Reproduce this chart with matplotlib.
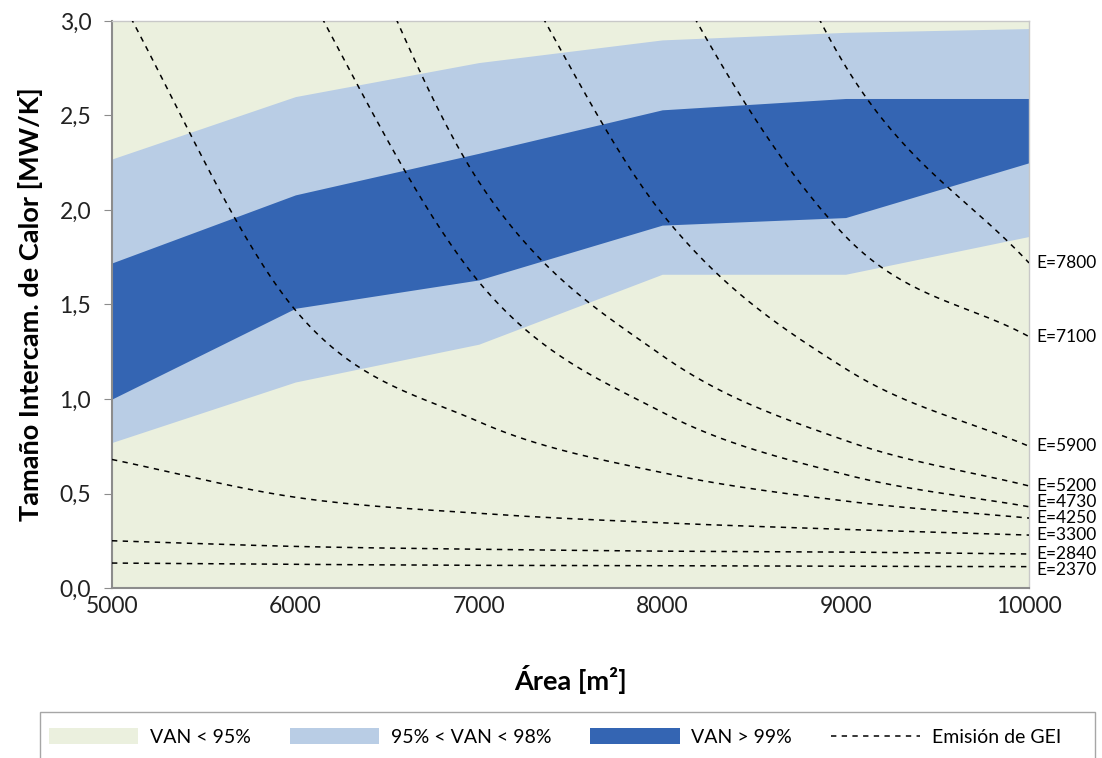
import numpy as np
import matplotlib
matplotlib.use("Agg")
import matplotlib.pyplot as plt
from matplotlib.patches import Patch, Rectangle
from matplotlib.lines import Line2D

plt.rcParams['font.family'] = ['Lato', 'DejaVu Sans']

# Área del campo solar [m2]
area = [5000, 6000, 7000, 8000, 9000, 10000]

# Límites de las regiones de VAN (tamaño intercambiador, MW/K)
van95_low = [0.77, 1.09, 1.29, 1.66, 1.66, 1.86]
van95_high = [2.27, 2.60, 2.78, 2.90, 2.94, 2.96]
van99_low = [1.00, 1.48, 1.63, 1.92, 1.96, 2.25]
van99_high = [1.72, 2.08, 2.30, 2.53, 2.59, 2.59]

# Curvas de isoemisión de GEI
emision_labels = ["E=7800", "E=7100", "E=5900", "E=5200", "E=4730",
                  "E=4250", "E=3300", "E=2840", "E=2370"]
emision_curves = [
    [10.0, 8.5, 7.0, 4.9, 2.76, 1.72],
    [8.5, 7.0, 5.5, 3.33, 1.86, 1.33],
    [6.5, 5.0, 3.6, 1.98, 1.16, 0.75],
    [6.0, 4.2, 2.15, 1.23, 0.78, 0.54],
    [5.2, 3.28, 1.62, 0.93, 0.60, 0.43],
    [3.2, 1.47, 0.88, 0.61, 0.46, 0.37],
    [0.68, 0.48, 0.395, 0.345, 0.31, 0.28],
    [0.25, 0.22, 0.205, 0.195, 0.19, 0.18],
    [0.132, 0.125, 0.12, 0.118, 0.115, 0.113],
]

C_BG = "#EBF0DE"
C_LIGHT = "#B9CDE5"
C_DARK = "#3465B3"
DASH = (0, (3.5, 3.5))


def smooth(x, y, n=40):
    """Catmull-Rom spline through the given points."""
    x = np.asarray(x, float)
    y = np.asarray(y, float)
    px = np.concatenate([[2 * x[0] - x[1]], x, [2 * x[-1] - x[-2]]])
    py = np.concatenate([[2 * y[0] - y[1]], y, [2 * y[-1] - y[-2]]])
    xs, ys = [], []
    t = np.linspace(0, 1, n, endpoint=False)
    for i in range(1, len(px) - 2):
        for p, out in ((px, xs), (py, ys)):
            p0, p1, p2, p3 = p[i - 1], p[i], p[i + 1], p[i + 2]
            out.append(0.5 * ((2 * p1) + (-p0 + p2) * t
                              + (2 * p0 - 5 * p1 + 4 * p2 - p3) * t ** 2
                              + (-p0 + 3 * p1 - 3 * p2 + p3) * t ** 3))
    xs = np.concatenate(xs + [[x[-1]]])
    ys = np.concatenate(ys + [[y[-1]]])
    return xs, ys


fig = plt.figure(figsize=(11.02, 7.58), dpi=100)
ax = fig.add_axes([112 / 1102, 1 - 588 / 758, (1029 - 112) / 1102, (588 - 21) / 758])
ax.set_facecolor(C_BG)

ax.fill_between(area, van95_low, van95_high, color=C_LIGHT, lw=0, zorder=1)
ax.fill_between(area, van99_low, van99_high, color=C_DARK, lw=0, zorder=2)

for vals in emision_curves:
    xs, ys = smooth(area, vals)
    ax.plot(xs, ys, color="black", ls=DASH, lw=1.1, zorder=3)

# End labels, spread upward from the bottom so they do not collide
ends = [c[-1] for c in emision_curves]
order = np.argsort(ends)
min_gap = 0.085
label_y = {}
prev = None
for k in order:
    y = ends[k] - 0.02 if prev is None else max(ends[k], prev + min_gap)
    label_y[k] = y
    prev = y
for k, lab in enumerate(emision_labels):
    ax.text(10000 + 40, label_y[k], lab, fontsize=12.5, va="center",
            ha="left", clip_on=False)

ax.set_xlim(5000, 10000)
ax.set_ylim(0, 3.0)
ax.set_xticks(area)
yt = np.arange(0, 3.01, 0.5)
ax.set_yticks(yt)
ax.set_yticklabels([f"{v:.1f}".replace(".", ",") for v in yt])
ax.tick_params(axis="both", labelsize=16.5, colors="#222222")
ax.tick_params(axis="y", direction="out", length=6, color="#8C8C8C", pad=9)
ax.tick_params(axis="x", length=0, pad=6)

for side in ("left", "bottom"):
    ax.spines[side].set_color("#8C8C8C")
    ax.spines[side].set_linewidth(1.5)
for side in ("top", "right"):
    ax.spines[side].set_color("#C8C8C8")
    ax.spines[side].set_linewidth(1.0)

ax.set_xlabel("Área [m²]", fontsize=19.5, fontweight="bold", labelpad=34)
ax.set_ylabel("Tamaño Intercam. de Calor [MW/K]", fontsize=19.5,
              fontweight="bold", labelpad=12)

# Legend frame across the bottom of the figure
fig.patches.append(Rectangle((40 / 1102, -0.01), (1095 - 40) / 1102,
                             (758 - 712) / 758 + 0.01,
                             transform=fig.transFigure, facecolor="white",
                             edgecolor="#A6A6A6", lw=1.0, zorder=0))

handles = [
    Patch(facecolor=C_BG, edgecolor="none", label="VAN < 95%"),
    Patch(facecolor=C_LIGHT, edgecolor="none", label="95% < VAN < 98%"),
    Patch(facecolor=C_DARK, edgecolor="none", label="VAN > 99%"),
    Line2D([0], [0], color="black", ls=DASH, lw=1.1, label="Emisión de GEI"),
]
leg = fig.legend(handles=handles, loc="center", ncol=4,
                 bbox_to_anchor=(555 / 1102, 1 - 737 / 758),
                 frameon=False, fontsize=14, handlelength=4.6,
                 handleheight=0.9, columnspacing=2.0, handletextpad=0.6)

fig.savefig("out.png", dpi=100)
